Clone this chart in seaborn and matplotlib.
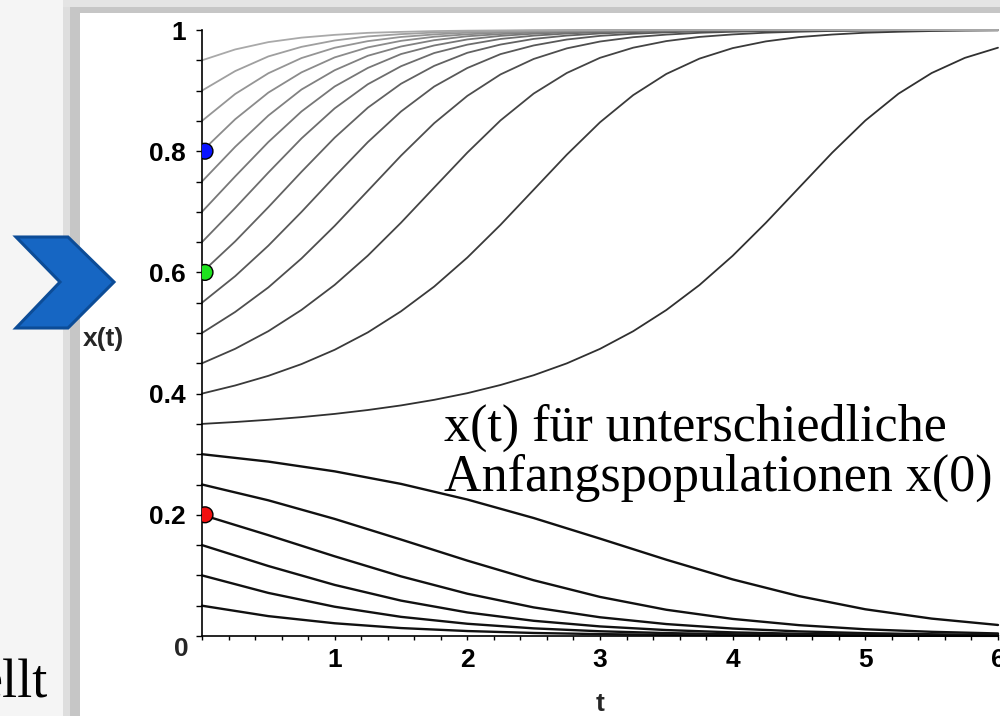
import matplotlib

# headless backend, we only write a png
matplotlib.use("Agg")
import matplotlib.pyplot as plt
import matplotlib.transforms as mtransforms
from matplotlib.patches import Rectangle, Polygon
from matplotlib.ticker import FixedLocator, FixedFormatter, MultipleLocator
import seaborn as sns
import pandas as pd

# time grids
T_UP = [0.0, 0.25, 0.5, 0.75, 1.0, 1.25, 1.5, 1.75, 2.0, 2.25, 2.5, 2.75, 3.0,
        3.25, 3.5, 3.75, 4.0, 4.25, 4.5, 4.75, 5.0, 5.25, 5.5, 5.75, 6.0]
T_LOW = [0.0, 0.5, 1.0, 1.5, 2.0, 2.5, 3.0, 3.5, 4.0, 4.5, 5.0, 5.5, 6.0]

# curves above the threshold (grow towards 1)
x_035 = [0.35, 0.3531, 0.3568, 0.3612, 0.3665, 0.3729, 0.3805, 0.3897, 0.4007, 0.4142, 0.4303, 0.4499, 0.4738,
         0.5029, 0.5379, 0.5792, 0.6274, 0.6818, 0.7397, 0.7975, 0.8506, 0.8949, 0.9290, 0.9540, 0.9708]
x_040 = [0.40, 0.4134, 0.4293, 0.4487, 0.4723, 0.5010, 0.5358, 0.5766, 0.6245, 0.6785, 0.7364, 0.7943, 0.8477,
         0.8925, 0.9275, 0.9528, 0.9701, 0.9812, 0.9883, 0.9925, 0.9955, 0.9971, 0.9983, 0.9990, 0.9994]
x_045 = [0.45, 0.4739, 0.5030, 0.5381, 0.5794, 0.6277, 0.6820, 0.7400, 0.7977, 0.8508, 0.8951, 0.9291, 0.9541,
         0.9708, 0.9817, 0.9886, 0.9927, 0.9956, 0.9972, 0.9984, 0.9990, 0.9994, 0.9996, 0.9997, 0.9998]
x_050 = [0.50, 0.5347, 0.5752, 0.6230, 0.6768, 0.7346, 0.7926, 0.8462, 0.8913, 0.9267, 0.9522, 0.9697, 0.9810,
         0.9881, 0.9924, 0.9954, 0.9971, 0.9983, 0.9990, 0.9994, 0.9996, 0.9997, 0.9998, 0.9999, 0.9999]
x_055 = [0.55, 0.5938, 0.6441, 0.6998, 0.7582, 0.8150, 0.8655, 0.9067, 0.9373, 0.9602, 0.9745, 0.9843, 0.9903,
         0.9938, 0.9961, 0.9977, 0.9986, 0.9991, 0.9995, 0.9997, 0.9998, 0.9999, 1.0, 1.0, 1.0]
x_060 = [0.60, 0.6512, 0.7076, 0.7660, 0.8223, 0.8718, 0.9113, 0.9408, 0.9624, 0.9760, 0.9853, 0.9908, 0.9943,
         0.9964, 0.9980, 0.9987, 0.9992, 0.9995, 0.9997, 0.9998, 0.9999, 1.0, 1.0, 1.0, 1.0]
x_065 = [0.65, 0.7063, 0.7647, 0.8211, 0.8707, 0.9105, 0.9402, 0.9620, 0.9758, 0.9852, 0.9907, 0.9942, 0.9964,
         0.9979, 0.9987, 0.9992, 0.9995, 0.9997, 0.9998, 0.9999, 1.0, 1.0, 1.0, 1.0, 1.0]
x_070 = [0.70, 0.7584, 0.8151, 0.8656, 0.9068, 0.9374, 0.9603, 0.9745, 0.9844, 0.9903, 0.9939, 0.9961, 0.9977,
         0.9986, 0.9991, 0.9995, 0.9997, 0.9998, 0.9999, 1.0, 1.0, 1.0, 1.0, 1.0, 1.0]
x_075 = [0.75, 0.8072, 0.8588, 0.9018, 0.9336, 0.9575, 0.9728, 0.9832, 0.9897, 0.9933, 0.9959, 0.9975, 0.9985,
         0.9991, 0.9994, 0.9996, 0.9998, 0.9999, 1.0, 1.0, 1.0, 1.0, 1.0, 1.0, 1.0]
x_080 = [0.80, 0.8527, 0.8967, 0.9301, 0.9548, 0.9713, 0.9821, 0.9889, 0.9929, 0.9957, 0.9973, 0.9984, 0.9990,
         0.9994, 0.9996, 0.9998, 0.9999, 1.0, 1.0, 1.0, 1.0, 1.0, 1.0, 1.0, 1.0]
x_085 = [0.85, 0.8944, 0.9286, 0.9537, 0.9707, 0.9816, 0.9885, 0.9927, 0.9956, 0.9972, 0.9983, 0.9990, 0.9994,
         0.9996, 0.9998, 0.9999, 1.0, 1.0, 1.0, 1.0, 1.0, 1.0, 1.0, 1.0, 1.0]
x_090 = [0.90, 0.9322, 0.9564, 0.9722, 0.9827, 0.9894, 0.9932, 0.9958, 0.9974, 0.9984, 0.9990, 0.9994, 0.9996,
         0.9998, 0.9999, 1.0, 1.0, 1.0, 1.0, 1.0, 1.0, 1.0, 1.0, 1.0, 1.0]
x_095 = [0.95, 0.9679, 0.9800, 0.9874, 0.9920, 0.9953, 0.9969, 0.9982, 0.9989, 0.9993, 0.9996, 0.9997, 0.9998,
         0.9999, 1.0, 1.0, 1.0, 1.0, 1.0, 1.0, 1.0, 1.0, 1.0, 1.0, 1.0]

# curves below the threshold (die out towards 0)
x_030 = [0.30, 0.2878, 0.2717, 0.2510, 0.2252, 0.1947, 0.1607, 0.1259, 0.0934, 0.0658, 0.0441, 0.0287, 0.0182]
x_025 = [0.25, 0.2239, 0.1932, 0.1592, 0.1244, 0.0920, 0.0645, 0.0433, 0.0282, 0.0179, 0.0111, 0.0069, 0.0042]
x_020 = [0.20, 0.1664, 0.1315, 0.0984, 0.0698, 0.0472, 0.0309, 0.0197, 0.0123, 0.0076, 0.0047, 0.0029, 0.0017]
x_015 = [0.15, 0.1155, 0.0843, 0.0584, 0.0389, 0.0251, 0.0158, 0.0098, 0.0060, 0.0037, 0.0023, 0.0014, 0.0008]
x_010 = [0.10, 0.0711, 0.0483, 0.0316, 0.0202, 0.0126, 0.0078, 0.0048, 0.0029, 0.0018, 0.0011, 0.0007, 0.0004]
x_005 = [0.05, 0.0328, 0.0210, 0.0131, 0.0082, 0.0050, 0.0031, 0.0019, 0.0011, 0.0007, 0.0004, 0.0003, 0.0002]

UPPER = [x_035, x_040, x_045, x_050, x_055, x_060, x_065, x_070, x_075, x_080, x_085, x_090, x_095]
LOWER = [x_030, x_025, x_020, x_015, x_010, x_005]

# marked start values on the x(t) axis
DOT_X0 = [0.8, 0.6, 0.2]
DOT_NAMES = ["blau", "gruen", "rot"]

Y_TICKS = [0.0, 0.2, 0.4, 0.6, 0.8, 1.0]
Y_LABELS = ["", "0.2", "0.4", "0.6", "0.8", "1"]
X_TICKS = [0, 1, 2, 3, 4, 5, 6]
X_LABELS = ["", "1", "2", "3", "4", "5", "6"]

NOTE_1 = "x(t) für unterschiedliche"
NOTE_2 = "Anfangspopulationen x(0)"

sns.set_style("ticks")
plt.rcParams["font.family"] = ["Liberation Sans", "DejaVu Sans"]
SERIF = ["Liberation Serif", "DejaVu Serif"]

W, H = 1000, 716
fig = plt.figure(figsize=(W / 100, H / 100), dpi=100, facecolor="#f5f5f5")


def fx(px):
    return px / W


def fy(py):
    return (H - py) / H


# slide frame: shadowed picture panel on a light background
fig.add_artist(Rectangle((fx(63), 0), 1, fy(0), transform=fig.transFigure,
                         facecolor="#e4e4e4", edgecolor="none", zorder=-10))
fig.add_artist(Rectangle((fx(63), 0), 1, fy(7), transform=fig.transFigure,
                         facecolor="#c6c6c6", edgecolor="none", zorder=-9))
fig.add_artist(Rectangle((fx(63), 0), fx(7), fy(7), transform=fig.transFigure,
                         facecolor="#dedede", edgecolor="none", zorder=-8))
fig.add_artist(Rectangle((fx(80), 0), 1, fy(13), transform=fig.transFigure,
                         facecolor="white", edgecolor="none", zorder=-7))

# blue chevron of the slide
chevron = [(16, 237), (68, 237), (114, 282), (68, 328), (16, 328), (60, 282)]
fig.add_artist(Polygon([(fx(a), fy(b)) for a, b in chevron], closed=True,
                       transform=fig.transFigure, facecolor="#1666c3",
                       edgecolor="#0c4c97", lw=2.2, joinstyle="miter", zorder=2))
fig.text(fx(48), fy(697), "ellt", ha="right", va="baseline", fontsize=39,
         family=SERIF, color="black")

ax = fig.add_axes([fx(202), fy(636), 796 / W, 606 / H])
ax.set_facecolor("white")

up_rows = []
for vals in UPPER:
    for t, v in zip(T_UP, vals):
        up_rows.append((t, v, f"{vals[0]:.2f}"))
df_up = pd.DataFrame(up_rows, columns=["t", "x", "x0"])

low_rows = []
for vals in LOWER:
    for t, v in zip(T_LOW, vals):
        low_rows.append((t, v, f"{vals[0]:.2f}"))
df_low = pd.DataFrame(low_rows, columns=["t", "x", "x0"])

levels = list(df_up["x0"].unique())
greys = sns.blend_palette(["#303030", "#a9a9a9"], n_colors=len(levels))
sns.lineplot(data=df_up, x="t", y="x", hue="x0", hue_order=levels,
             palette=dict(zip(levels, greys)), estimator=None, legend=False,
             lw=1.3, ax=ax)
sns.lineplot(data=df_low, x="t", y="x", units="x0", estimator=None,
             color="#111111", lw=1.7, ax=ax)
for ln in ax.lines:
    ln.set_clip_on(False)

df_dots = pd.DataFrame({"t": [0.0] * len(DOT_X0), "x": DOT_X0, "farbe": DOT_NAMES})
nudge = mtransforms.offset_copy(ax.transData, fig=fig, x=3, y=0, units="dots")
sns.scatterplot(data=df_dots, x="t", y="x", hue="farbe", hue_order=DOT_NAMES,
                palette={"blau": "#0a14ff", "gruen": "#1ee21e", "rot": "#f01010"},
                s=130, edgecolor="black", linewidth=1.0, legend=False,
                transform=nudge, zorder=5, ax=ax)

ax.set_xlim(0, 6)
ax.set_ylim(0, 1)
ax.set_xlabel("")
ax.set_ylabel("")
sns.despine(ax=ax)
for side in ("left", "bottom"):
    ax.spines[side].set_linewidth(1.2)
    ax.spines[side].set_color("black")

ax.yaxis.set_major_locator(FixedLocator(Y_TICKS))
ax.yaxis.set_major_formatter(FixedFormatter(Y_LABELS))
ax.yaxis.set_minor_locator(MultipleLocator(0.05))
ax.xaxis.set_major_locator(FixedLocator(X_TICKS))
ax.xaxis.set_major_formatter(FixedFormatter(X_LABELS))
ax.xaxis.set_minor_locator(MultipleLocator(0.2))
ax.tick_params(axis="y", which="both", direction="out", length=4, width=1.0,
               colors="black", labelsize=19, pad=7.5)
ax.tick_params(axis="x", which="both", direction="out", length=2.6, width=1.0,
               colors="black", labelsize=19, pad=6)
for lab in ax.get_xticklabels() + ax.get_yticklabels():
    lab.set_fontweight("bold")

# Maple style axis labels
fig.text(fx(181.5), fy(649.5), "0", ha="center", va="center", fontsize=19, fontweight="bold")
fig.text(fx(600), fy(711), "t", ha="center", va="baseline", fontsize=19, fontweight="bold")
fig.text(fx(83), fy(339), "x(t)", ha="left", va="center", fontsize=19, fontweight="bold")

fig.text(fx(444), fy(441), NOTE_1, ha="left", va="baseline", fontsize=37.5,
         family=SERIF, color="black")
fig.text(fx(444), fy(491), NOTE_2, ha="left", va="baseline", fontsize=37.5,
         family=SERIF, color="black")

fig.savefig("out.png", dpi=100, facecolor=fig.get_facecolor())
plt.close(fig)
